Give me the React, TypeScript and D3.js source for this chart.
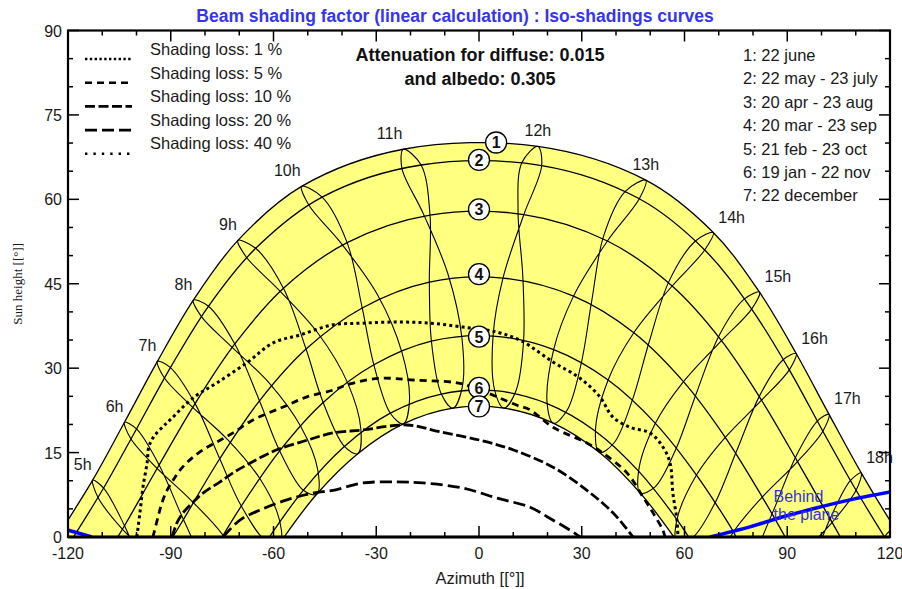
import React from "react";
import * as d3 from "d3";

// ---------- data ----------
const TITLE = "Beam shading factor (linear calculation) : Iso-shadings curves";
const INFO_LINES = ["Attenuation for diffuse: 0.015", "and albedo: 0.305"];
const DATE_LABELS = ["22 june", "22 may - 23 july", "20 apr - 23 aug", "20 mar - 23 sep", "21 feb - 23 oct", "19 jan - 22 nov", "22 december"];
// order of the 12 columns below
const SUN_DATES = ["Jun 22", "May 22", "Apr 20", "Mar 20", "Feb 21", "Jan 19", "Dec 22", "Nov 22", "Oct 23", "Sep 23", "Aug 23", "Jul 23"];
const LOOP_ORDER = [0, 11, 10, 9, 8, 7, 6, 5, 4, 3, 2, 1];
const HOURS = [5, 6, 7, 8, 9, 10, 11, 12, 13, 14, 15, 16, 17, 18, 19];
const SUN_AZ = [
  [-112.8, -109.6, -103.5, -96.6, -89.8, -81.5, -77.3, -78.2, -84.7, -94.5, -104.6, -111.3],
  [-103.5, -100.0, -93.4, -86.3, -79.7, -71.9, -67.9, -68.6, -74.6, -84.2, -94.5, -101.7],
  [-93.9, -90.1, -82.9, -75.7, -69.4, -62.0, -58.1, -58.4, -63.9, -73.4, -84.2, -91.9],
  [-83.4, -79.0, -71.3, -64.1, -58.2, -51.3, -47.4, -47.1, -52.0, -61.3, -72.6, -81.1],
  [-70.4, -65.2, -57.1, -50.5, -45.5, -39.3, -35.4, -34.5, -38.3, -47.0, -58.6, -67.9],
  [-51.8, -45.8, -38.5, -34.1, -30.7, -25.9, -22.1, -20.3, -22.5, -29.6, -40.4, -49.7],
  [-22.1, -16.9, -14.3, -14.5, -13.9, -11.0, -7.6, -4.9, -5.0, -9.0, -16.3, -22.5],
  [17.2, 18.3, 13.1, 7.0, 4.1, 4.6, 7.3, 10.8, 13.0, 12.8, 11.4, 12.5],
  [48.7, 46.8, 37.5, 27.6, 21.8, 19.9, 21.8, 25.8, 29.8, 32.9, 36.4, 42.7],
  [68.4, 65.9, 56.4, 45.2, 37.7, 34.0, 35.2, 39.4, 44.6, 49.7, 55.6, 63.2],
  [81.9, 79.6, 70.8, 59.7, 51.5, 46.6, 47.1, 51.4, 57.4, 63.5, 70.2, 77.5],
  [92.6, 90.6, 82.5, 71.9, 63.5, 57.8, 57.8, 62.2, 68.7, 75.3, 82.1, 88.8],
  [102.2, 100.4, 93.0, 82.7, 74.3, 68.0, 67.7, 72.1, 79.0, 85.9, 92.6, 98.8],
  [111.6, 110.1, 103.1, 93.1, 84.4, 77.6, 77.0, 81.7, 89.1, 96.2, 102.7, 108.4],
  [121.4, 120.1, 113.6, 103.7, 94.7, 87.4, 86.6, 91.7, 99.8, 107.0, 113.1, 118.3],
];
const SUN_H = [
  [10.1, 8.7, 2.0, -7.8, -15.9, -21.5, -21.2, -16.8, -10.5, -4.3, 1.7, 7.1],
  [20.4, 19.2, 12.8, 3.1, -5.0, -10.9, -10.8, -6.4, 0.2, 6.6, 12.5, 17.5],
  [31.2, 30.1, 23.7, 13.9, 5.5, -0.8, -1.1, 3.3, 10.3, 17.3, 23.4, 28.3],
  [42.1, 41.0, 34.3, 24.2, 15.3, 8.3, 7.6, 12.0, 19.6, 27.4, 34.0, 39.2],
  [52.7, 51.3, 44.2, 33.4, 23.9, 16.1, 14.8, 19.2, 27.3, 36.2, 44.0, 49.7],
  [62.3, 60.4, 52.3, 40.7, 30.6, 22.0, 20.1, 24.2, 32.8, 43.0, 52.3, 59.0],
  [68.9, 66.1, 57.2, 45.3, 34.8, 25.4, 22.9, 26.6, 35.4, 46.6, 57.5, 65.5],
  [69.4, 66.0, 57.3, 46.0, 35.7, 26.0, 22.9, 26.0, 34.7, 46.2, 57.9, 66.5],
  [63.4, 60.1, 52.6, 42.8, 33.3, 23.7, 20.2, 22.6, 30.7, 41.9, 53.5, 61.4],
  [54.1, 51.0, 44.6, 36.3, 27.9, 18.8, 15.0, 16.7, 24.0, 34.7, 45.6, 52.6],
  [43.5, 40.5, 34.9, 27.6, 20.2, 11.7, 7.8, 8.9, 15.5, 25.6, 35.9, 42.3],
  [32.6, 29.7, 24.3, 17.7, 11.0, 3.1, -0.9, -0.2, 5.8, 15.4, 25.3, 31.5],
  [21.8, 18.8, 13.4, 7.1, 0.9, -6.6, -10.6, -10.3, -4.7, 4.6, 14.4, 20.6],
  [11.4, 8.3, 2.6, -3.8, -9.8, -17.0, -20.9, -20.9, -15.5, -6.3, 3.5, 10.0],
  [1.6, -1.5, -7.7, -14.6, -20.7, -27.8, -31.7, -31.8, -26.4, -17.0, -6.8, 0.0],
];
const SUNRISE_AZ = [-123.2, -118.4, -105.5, -89.4, -75.0, -61.2, -56.9];
const NOON_H = [70.1, 67.0, 58.2, 46.7, 35.6, 26.5, 23.2];

const ISO_LEVELS = ["1 %", "5 %", "10 %", "20 %", "40 %"];
const ISO_1: [number, number][] = [
  [-99.9, 0], [-99.0, 4.3], [-98.1, 8.9], [-96.9, 13.2], [-96.4, 16.0], [-95.0, 17.8], [-92.3, 19.6], [-90.2, 20.8],
  [-83.5, 24.7], [-76.5, 27.4], [-67.7, 31.0], [-60.1, 34.5], [-52.3, 35.9], [-42.6, 37.7], [-33.9, 38.0], [-23.9, 38.2],
  [-14.3, 38.0], [-4.7, 37.3], [5.3, 36.4], [12.5, 34.8], [21.6, 31.1], [29.5, 28.2], [35.3, 24.9], [39.1, 21.3],
  [44.1, 19.5], [49.9, 18.5], [53.7, 16.0], [55.8, 13.1], [56.6, 7.8], [57.8, 3.0], [58.1, 0],
];
const ISO_5: [number, number][] = [
  [-95.2, 0], [-93.7, 3.6], [-92.6, 6.0], [-91.1, 8.3], [-89.3, 10.1], [-87.3, 11.9], [-84.4, 13.7], [-80.6, 15.5],
  [-75.6, 17.2], [-71.8, 18.5], [-66.0, 20.8], [-57.2, 23.1], [-50.2, 24.9], [-42.6, 26.1], [-37.7, 27.2], [-28.9, 28.2],
  [-19.3, 27.9], [-6.4, 27.4], [-1.8, 26.6], [5.3, 24.9], [11.1, 23.4], [14.9, 22.6], [21.6, 19.5], [31.5, 16.7],
  [36.2, 14.9], [43.2, 11.4], [47.9, 7.1], [50.8, 4.3], [53.7, 1.2], [54.3, 0],
];
const ISO_10: [number, number][] = [
  [-89.6, 0], [-88.2, 2.5], [-86.4, 4.3], [-83.8, 6.0], [-80.6, 7.8], [-75.6, 9.8], [-71.8, 11.4], [-66.9, 13.1],
  [-59.0, 15.5], [-50.2, 17.2], [-42.6, 18.5], [-34.2, 19.0], [-21.0, 19.9], [-11.4, 18.7], [0.3, 17.2], [9.9, 15.5],
  [21.6, 12.4], [31.5, 8.3], [39.1, 4.3], [44.1, 0.7], [45.0, 0],
];
const ISO_20: [number, number][] = [
  [-74.7, 0], [-69.8, 3.0], [-63.9, 4.8], [-56.1, 6.6], [-48.5, 7.8], [-42.6, 8.3], [-33.9, 9.6], [-23.9, 9.8],
  [-16.4, 9.6], [-4.7, 8.7], [5.3, 6.9], [14.9, 5.3], [19.9, 3.6], [26.6, 1.2], [29.5, 0],
];
const ISO_CURVES = [ISO_1, ISO_5, ISO_10, ISO_20];
const BEHIND_EAST: [number, number][] = [[-120.5, 1.3], [-113, 0]];
const BEHIND_WEST: [number, number][] = [[67.4, 0], [79.1, 1.8], [88.8, 3.6], [98.7, 5.2], [108.3, 6.6], [121, 8.1]];

const X_TICKS = d3.range(-120, 121, 10);
const Y_TICKS = d3.range(0, 91, 5);

// ---------- styles ----------
const W = 902, H = 589;
const PL = 68, PR = 890, PT = 30.5, PB = 537;
const FONT = "'Liberation Sans', Arial, sans-serif";
const DASHES = ["2.4,2.4", "7,5", "10,3.5", "12,5", "2.4,6"];
const CURVE_DASHES = ["3,3.2", "7,5", "10,3.5", "12,5"];
const YELLOW = "#ffff80";

export default function App() {
  const x = d3.scaleLinear().domain([-120, 120]).range([PL, PR]);
  const y = d3.scaleLinear().domain([0, 90]).range([PB, PT]);
  const line = d3.line<[number, number]>().x(d => x(d[0])).y(d => y(d[1])).curve(d3.curveCatmullRom.alpha(0.5));
  const loop = d3.line<[number, number]>().x(d => x(d[0])).y(d => y(d[1])).curve(d3.curveCatmullRomClosed.alpha(0.5));

  const datePts = (i: number): [number, number][] => {
    const pts: [number, number][] = [[SUNRISE_AZ[i], 0]];
    HOURS.forEach((_, k) => { if (SUN_H[k][i] > 0) pts.push([SUN_AZ[k][i], SUN_H[k][i]]); });
    pts.push([-SUNRISE_AZ[i], 0]);
    return pts;
  };
  const datePaths = DATE_LABELS.map((_, i) => line(datePts(i)) as string);
  const decRev = datePts(6).slice().reverse();
  const fillPath = (line(datePts(0)) as string) + (line(decRev) as string).replace(/^M/, "L") + "Z";

  const hourLoops = HOURS.map((_, k) => loop(LOOP_ORDER.map(j => [SUN_AZ[k][j], SUN_H[k][j]] as [number, number])) as string);

  const hourLabels = HOURS.map((h, k) => {
    const az = SUN_AZ[k][0], alt = SUN_H[k][0];
    if (az < -120 || az > 120 || alt < 0) return null;
    let anchor = "middle", dx = 0;
    if (az < -15) { anchor = "end"; dx = -1; } else if (az > 55) { anchor = "start"; dx = 5; }
    return <text key={h} x={x(az) + dx} y={y(alt) - 10} textAnchor={anchor} fontSize={16} fill="#1a1a1a">{h}h</text>;
  });

  return (
    <svg width={W} height={H} style={{ position: "absolute", left: 0, top: 0, background: "#fff" }} fontFamily={FONT}>
      <defs>
        <clipPath id="plot"><rect x={PL} y={PT} width={PR - PL} height={PB - PT} /></clipPath>
      </defs>
      <rect x={0} y={0} width={W} height={H} fill="#fff" />
      <text x={455} y={22} textAnchor="middle" fontSize={17.5} fontWeight="bold" fill="#3535f0">{TITLE}</text>

      <g clipPath="url(#plot)">
        <path d={fillPath} fill={YELLOW} stroke="none" />
        {hourLoops.map((d, k) => <path key={k} d={d} fill="none" stroke="#000" strokeWidth={1.1} />)}
        {datePaths.map((d, i) => <path key={i} d={d} fill="none" stroke="#000" strokeWidth={1.3} />)}
        {ISO_CURVES.map((c, i) => <path key={i} d={line(c) as string} fill="none" stroke="#000" strokeWidth={i === 0 ? 3 : 2.8} strokeDasharray={CURVE_DASHES[i]} />)}
        <path d={line(BEHIND_EAST) as string} fill="none" stroke="#0000ff" strokeWidth={3.5} />
        <path d={line(BEHIND_WEST) as string} fill="none" stroke="#0000ff" strokeWidth={3.5} />
      </g>
      <text x={x(86)} y={y(6.3)} fontSize={16} fill="#3333dd">Behind</text>
      <text x={x(86)} y={y(3.1)} fontSize={16} fill="#3333dd">the plane</text>

      {NOON_H.map((hgt, i) => {
        const cx = x(i === 0 ? 5 : 0), cy = y(hgt);
        return (
          <g key={i}>
            <circle cx={cx} cy={cy} r={10.5} fill="#fff" stroke="#000" strokeWidth={1.3} />
            <text x={cx} y={cy + 6} textAnchor="middle" fontSize={16} fontWeight="bold" fill="#111">{i + 1}</text>
          </g>
        );
      })}

      {hourLabels}

      {/* frame and ticks */}
      <rect x={PL} y={PT} width={PR - PL} height={PB - PT} fill="none" stroke="#000" strokeWidth={2.2} />
      <line x1={PL} x2={PR} y1={PB} y2={PB} stroke="#000" strokeWidth={3} />
      {X_TICKS.map(v => {
        const len = v % 30 === 0 ? 11 : 5;
        return (
          <g key={v}>
            <line x1={x(v)} x2={x(v)} y1={PB} y2={PB - len} stroke="#000" strokeWidth={1.5} />
            <line x1={x(v)} x2={x(v)} y1={PT} y2={PT + len} stroke="#000" strokeWidth={1.5} />
            {v % 30 === 0 && <text x={x(v)} y={559} textAnchor="middle" fontSize={16} fill="#1a1a1a">{v}</text>}
          </g>
        );
      })}
      {Y_TICKS.map(v => {
        const len = v % 15 === 0 ? 11 : 5;
        return (
          <g key={v}>
            <line x1={PL} x2={PL + len} y1={y(v)} y2={y(v)} stroke="#000" strokeWidth={1.5} />
            <line x1={PR} x2={PR - len} y1={y(v)} y2={y(v)} stroke="#000" strokeWidth={1.5} />
            {v % 15 === 0 && <text x={62} y={y(v) + 6} textAnchor="end" fontSize={16} fill="#1a1a1a">{v}</text>}
          </g>
        );
      })}
      <text x={480} y={584} textAnchor="middle" fontSize={16.5} fill="#1a1a1a">Azimuth [[°]]</text>
      <text transform={`translate(22,${(PT + PB) / 2}) rotate(-90)`} textAnchor="middle" fontSize={13} fontFamily="'Liberation Serif', 'Times New Roman', serif" fill="#1a1a1a">Sun height [[°]]</text>

      {/* info text */}
      {INFO_LINES.map((t, i) => <text key={i} x={480} y={61 + i * 24} textAnchor="middle" fontSize={18} fontWeight="bold" fill="#111">{t}</text>)}

      {/* shading loss legend */}
      {ISO_LEVELS.map((lv, i) => (
        <g key={lv}>
          <line x1={85} x2={132} y1={59 + i * 23.7} y2={59 + i * 23.7} stroke="#000" strokeWidth={2.6} strokeDasharray={DASHES[i]} />
          <text x={150} y={55 + i * 23.6} fontSize={16.5} fill="#1a1a1a">Shading loss: {lv}</text>
        </g>
      ))}
      {/* date legend */}
      {DATE_LABELS.map((t, i) => <text key={t} x={743} y={61 + i * 23.4} fontSize={16.5} fill="#1a1a1a">{i + 1}: {t}</text>)}
    </svg>
  );
}
